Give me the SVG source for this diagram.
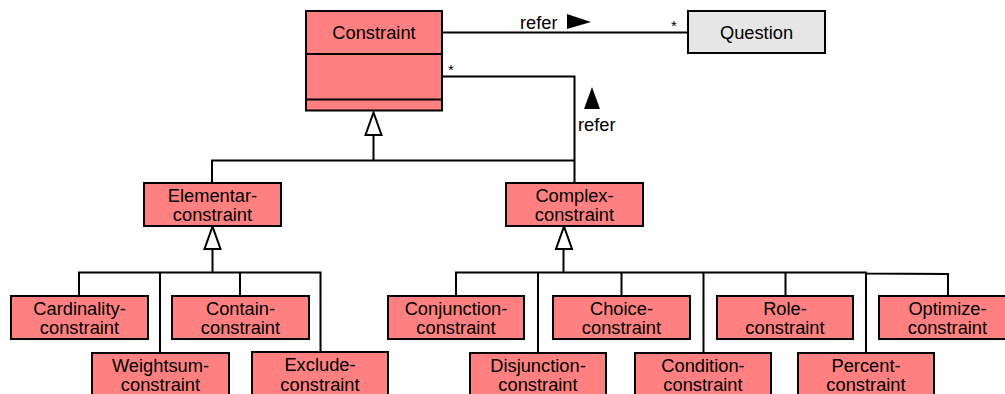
<svg xmlns="http://www.w3.org/2000/svg" width="1005" height="394" viewBox="0 0 1005 394">
  <style>
    .cls { fill: #ff8080; stroke: #000; stroke-width: 2; }
    .ext { fill: #e6e6e6; stroke: #000; stroke-width: 2; }
    .sep { stroke: #000; stroke-width: 2; fill: none; }
    .lbl { font-family: "Liberation Sans", Arial, sans-serif; font-size: 18.3px; fill: #000; text-anchor: middle; }
    .note { font-family: "Liberation Sans", Arial, sans-serif; font-size: 18.3px; fill: #000; }
    .mult { font-family: "Liberation Sans", Arial, sans-serif; font-size: 15px; fill: #000; }
    .wire { stroke: #000; stroke-width: 2; fill: none; }
    .gen { fill: #fff; stroke: #000; stroke-width: 2; stroke-linejoin: miter; }
    .dir { fill: #000; stroke: none; }
  </style>
  <rect width="1005" height="394" fill="#fff"/>

  <!-- connectors -->
  <g id="connectors">
    <!-- association Constraint -> Question -->
    <line class="wire" x1="442" y1="32.5" x2="688" y2="32.5"/>
    <text class="note" x="520" y="29">refer</text>
    <polygon class="dir" points="567,14 591,22 567,29"/>
    <text class="mult" x="671" y="31">*</text>

    <!-- association Complex-constraint -> Constraint -->
    <polyline class="wire" points="442,76.5 574.5,76.5 574.5,183"/>
    <text class="mult" x="448" y="75">*</text>
    <polygon class="dir" points="592,87 584,109 600,109"/>
    <text class="note" x="578" y="131">refer</text>

    <!-- generalization to Constraint -->
    <polyline class="wire" points="212,183 212,160.5 574.5,160.5"/>
    <line class="wire" x1="373.5" y1="135" x2="373.5" y2="160.5"/>
    <polygon class="gen" points="373.5,112.5 365.5,135 381.5,135"/>

    <!-- generalization to Elementar-constraint -->
    <polyline class="wire" points="79,296 79,272.5 320.5,272.5 320.5,352"/>
    <line class="wire" x1="160" y1="272.5" x2="160" y2="353"/>
    <line class="wire" x1="240" y1="272.5" x2="240" y2="296"/>
    <line class="wire" x1="212.5" y1="249" x2="212.5" y2="272.5"/>
    <polygon class="gen" points="212.5,226.5 204.5,249 220.5,249"/>

    <!-- generalization to Complex-constraint -->
    <polyline class="wire" points="456,296 456,272.5 866,272.5 866.5,273.5 948,274 948,296"/>
    <line class="wire" x1="538" y1="272.5" x2="538" y2="353"/>
    <line class="wire" x1="621.5" y1="272.5" x2="621.5" y2="296"/>
    <line class="wire" x1="703.5" y1="272.5" x2="703.5" y2="353"/>
    <line class="wire" x1="785.5" y1="272.5" x2="785.5" y2="296"/>
    <line class="wire" x1="866" y1="272.5" x2="866" y2="353"/>
    <line class="wire" x1="563.5" y1="249" x2="563.5" y2="272.5"/>
    <polygon class="gen" points="564,226.5 556,249 572,249"/>
  </g>

  <!-- nodes -->
  <g id="constraint">
    <rect class="cls" x="306" y="11" width="136" height="99.5"/>
    <line class="sep" x1="306" y1="54" x2="442" y2="54"/>
    <line class="sep" x1="306" y1="99.5" x2="442" y2="99.5"/>
    <text class="lbl" x="374" y="39">Constraint</text>
  </g>

  <g id="question">
    <rect class="ext" x="688" y="11" width="137" height="42"/>
    <text class="lbl" x="756.5" y="38.5">Question</text>
  </g>

  <g id="elementar-constraint">
    <rect class="cls" x="144" y="183" width="137" height="43"/>
    <text class="lbl" x="212.5" y="201.5">Elementar-</text>
    <text class="lbl" x="212.5" y="221">constraint</text>
  </g>

  <g id="complex-constraint">
    <rect class="cls" x="506" y="183" width="137" height="43"/>
    <text class="lbl" x="574.5" y="201.5">Complex-</text>
    <text class="lbl" x="574.5" y="221">constraint</text>
  </g>

  <g id="cardinality-constraint">
    <rect class="cls" x="11" y="296" width="137" height="43"/>
    <text class="lbl" x="79.5" y="314.5">Cardinality-</text>
    <text class="lbl" x="79.5" y="334">constraint</text>
  </g>

  <g id="contain-constraint">
    <rect class="cls" x="172" y="296" width="137" height="43"/>
    <text class="lbl" x="240.5" y="314.5">Contain-</text>
    <text class="lbl" x="240.5" y="334">constraint</text>
  </g>

  <g id="weightsum-constraint">
    <rect class="cls" x="92" y="353" width="137" height="43"/>
    <text class="lbl" x="160.5" y="371.5">Weightsum-</text>
    <text class="lbl" x="160.5" y="391">constraint</text>
  </g>

  <g id="exclude-constraint">
    <rect class="cls" x="252" y="352" width="136" height="44"/>
    <text class="lbl" x="320" y="371">Exclude-</text>
    <text class="lbl" x="320" y="390.5">constraint</text>
  </g>

  <g id="conjunction-constraint">
    <rect class="cls" x="388" y="296" width="136" height="43"/>
    <text class="lbl" x="456" y="314.5">Conjunction-</text>
    <text class="lbl" x="456" y="334">constraint</text>
  </g>

  <g id="choice-constraint">
    <rect class="cls" x="553" y="296" width="137" height="43"/>
    <text class="lbl" x="621.5" y="314.5">Choice-</text>
    <text class="lbl" x="621.5" y="334">constraint</text>
  </g>

  <g id="role-constraint">
    <rect class="cls" x="717" y="296" width="136" height="43"/>
    <text class="lbl" x="785" y="314.5">Role-</text>
    <text class="lbl" x="785" y="334">constraint</text>
  </g>

  <g id="optimize-constraint">
    <rect class="cls" x="879" y="296" width="137" height="43"/>
    <text class="lbl" x="947.5" y="314.5">Optimize-</text>
    <text class="lbl" x="947.5" y="334">constraint</text>
  </g>

  <g id="disjunction-constraint">
    <rect class="cls" x="470" y="353" width="136" height="43"/>
    <text class="lbl" x="538" y="371.5">Disjunction-</text>
    <text class="lbl" x="538" y="391">constraint</text>
  </g>

  <g id="condition-constraint">
    <rect class="cls" x="635" y="353" width="136" height="43"/>
    <text class="lbl" x="703" y="371.5">Condition-</text>
    <text class="lbl" x="703" y="391">constraint</text>
  </g>

  <g id="percent-constraint">
    <rect class="cls" x="798" y="353" width="136" height="43"/>
    <text class="lbl" x="866" y="371.5">Percent-</text>
    <text class="lbl" x="866" y="391">constraint</text>
  </g>
</svg>
